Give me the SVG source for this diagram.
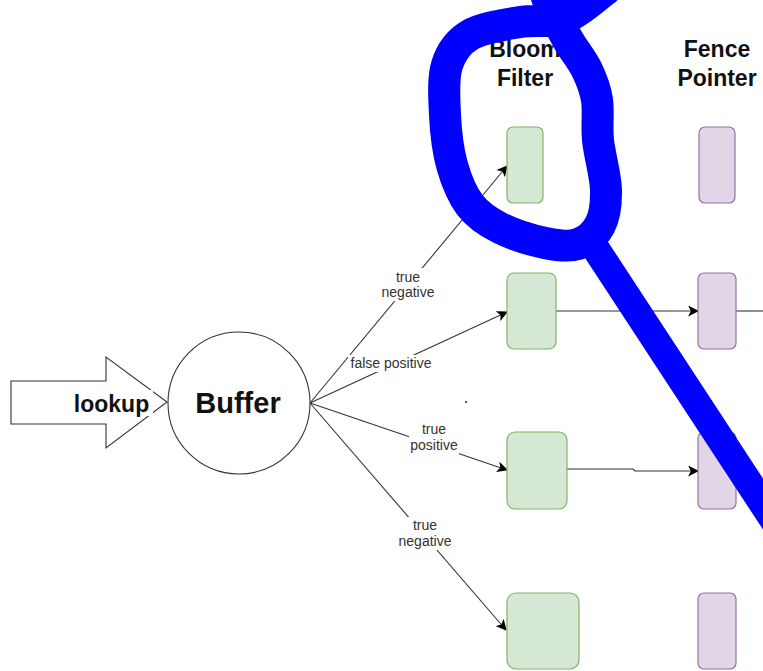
<svg xmlns="http://www.w3.org/2000/svg" width="763" height="671" viewBox="0 0 763 671">
<style>
.bf{fill:#d5e8d4;stroke:#82b366;stroke-width:1.2}
.fp{fill:#e1d5e7;stroke:#9673a6;stroke-width:1.2}
.hdr{font-family:"Liberation Sans",Arial,sans-serif;font-weight:bold;font-size:23px;fill:#111;text-anchor:middle}
.lbl{font-family:"Liberation Sans",Arial,sans-serif;font-size:14px;fill:#333;text-anchor:middle}
.edge{fill:none;stroke:#333;stroke-width:1.1}
.lblbg{fill:#fff}
.pen{fill:none;stroke:#0000ff;stroke-linecap:round;stroke-linejoin:round}
</style>
<defs>
<marker id="ah" viewBox="0 0 10 10" refX="9" refY="5" markerWidth="11" markerHeight="11" markerUnits="userSpaceOnUse" orient="auto">
<path d="M0,0 L10,5 L0,10 L2.5,5 Z" fill="#000"/>
</marker>
</defs>
<rect width="763" height="671" fill="#fff"/>

<g id="headers">
<text class="hdr" x="525" y="57">Bloom</text>
<text class="hdr" x="525" y="86">Filter</text>
<text class="hdr" x="717" y="57">Fence</text>
<text class="hdr" x="717" y="86">Pointer</text>
</g>

<g id="connectors">
<path class="edge" d="M310,403 L507,166" marker-end="url(#ah)"/>
<path class="edge" d="M310,403 L507,312" marker-end="url(#ah)"/>
<path class="edge" d="M310,403 L507,470" marker-end="url(#ah)"/>
<path class="edge" d="M310,403 L506,630" marker-end="url(#ah)"/>
<path class="edge" d="M556,311 L698,311" marker-end="url(#ah)"/>
<path class="edge" d="M736,311 L763,311"/>
<path class="edge" d="M567,469 L633,469 L635,471 L698,471" marker-end="url(#ah)"/>
<g id="edge-labels">
<rect class="lblbg" x="383" y="268" width="50" height="33"/>
<text class="lbl" x="408" y="282">true</text>
<text class="lbl" x="408" y="297">negative</text>
<rect class="lblbg" x="348" y="355" width="86" height="17"/>
<text class="lbl" x="391" y="368">false positive</text>
<rect class="lblbg" x="409" y="421" width="50" height="33"/>
<text class="lbl" x="434" y="434">true</text>
<text class="lbl" x="434" y="450">positive</text>
<rect class="lblbg" x="398" y="517" width="55" height="33"/>
<text class="lbl" x="425" y="530">true</text>
<text class="lbl" x="425" y="546">negative</text>
</g>
</g>

<g id="lookup">
<polygon points="11,381 106,381 106,357 167,402 106,448 106,424 11,424" fill="#fff" stroke="#333" stroke-width="1.1"/>
<rect class="lblbg" x="71" y="390" width="82" height="26"/>
<text class="hdr" x="111.5" y="412">lookup</text>
</g>

<g id="buffer">
<circle cx="239" cy="403" r="71" fill="#fff" stroke="#333" stroke-width="1.1"/>
<text class="hdr" x="238" y="413" style="font-size:29px">Buffer</text>
</g>

<g id="bf1"><rect class="bf" x="507" y="127" width="36" height="76" rx="6"/></g>
<g id="bf2"><rect class="bf" x="507" y="273" width="49" height="76" rx="7"/></g>
<g id="bf3"><rect class="bf" x="507" y="432" width="60" height="77" rx="8"/></g>
<g id="bf4"><rect class="bf" x="507" y="593" width="72" height="76" rx="9"/></g>
<g id="fp1"><rect class="fp" x="699" y="127" width="36" height="76" rx="6"/></g>
<g id="fp2"><rect class="fp" x="698" y="273" width="38" height="76" rx="6"/></g>
<g id="fp3"><rect class="fp" x="698" y="432" width="38" height="77" rx="6"/></g>
<g id="fp4"><rect class="fp" x="698" y="593" width="38" height="76" rx="6"/></g>

<rect x="465" y="401" width="2" height="2" fill="#555"/>

<g id="annotation">
<path class="pen" stroke-width="32" d="M605,-10 C598.3,-5.3 579.2,12.7 565,18 C550.8,23.3 535.8,19.2 520,22 C504.2,24.8 482.2,27.8 470,35 C457.8,42.2 451.2,51.7 447,65 C442.8,78.3 444.2,98.3 445,115 C445.8,131.7 447.8,150 452,165 C456.2,180 462,194.5 470,205 C478,215.5 487.5,221.7 500,228 C512.5,234.3 532,240.3 545,243 C558,245.7 568.8,247 578,244 C587.2,241 595.3,234 600,225 C604.7,216 606.3,204.2 606,190 C605.7,175.8 599.5,155 598,140 C596.5,125 598.8,111.7 597,100 C595.2,88.3 591.8,80 587,70 C582.2,60 574.2,50.8 568,40 C561.8,29.2 553.8,13.3 550,5 C546.2,-3.3 545,-10 545,-10"/>
<path class="pen" stroke-width="28" d="M592,243 L780,530"/>
</g>
</svg>
